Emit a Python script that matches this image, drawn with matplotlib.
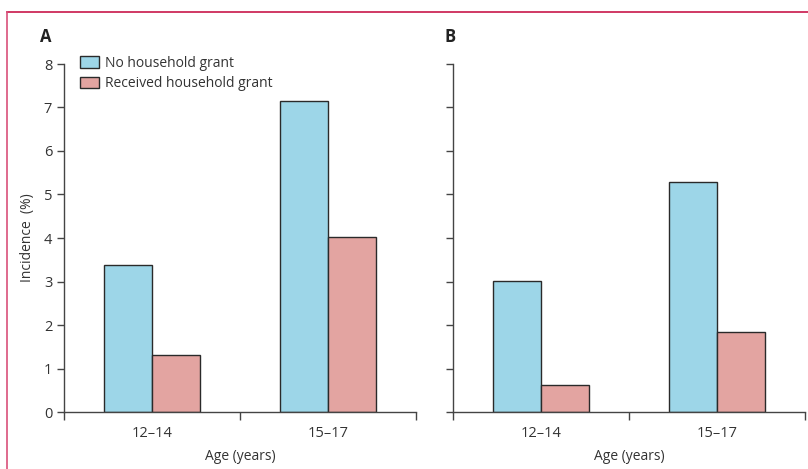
import matplotlib.pyplot as plt
import numpy as np
from matplotlib.lines import Line2D
from matplotlib.patches import Patch

plt.rcParams['font.family'] = ['Open Sans', 'DejaVu Sans']

age_groups = ['12\u201314', '15\u201317']
series_names = ['No household grant', 'Received household grant']
panel_a_none = [3.38, 7.15]
panel_a_grant = [1.32, 4.02]
panel_b_none = [3.02, 5.29]
panel_b_grant = [0.61, 1.83]
yticks = [0, 1, 2, 3, 4, 5, 6, 7, 8]

blue = '#9dd6e8'
pink = '#e3a4a1'
edge = '#2a2a2a'
txt = '#333333'

fig = plt.figure(figsize=(8.08, 4.69), dpi=100)
ax_a = fig.add_axes([64/808, 1-412/469, 352/808, 348/469])
ax_b = fig.add_axes([453/808, 1-412/469, 352/808, 348/469])

x = np.arange(len(age_groups))
w = 0.274

for ax, none, grant in [(ax_a, panel_a_none, panel_a_grant), (ax_b, panel_b_none, panel_b_grant)]:
    ax.bar(x - w/2, none, w, color=blue, edgecolor=edge, linewidth=1.0)
    ax.bar(x + w/2, grant, w, color=pink, edgecolor=edge, linewidth=1.0)
    ax.set_xlim(-0.5, 1.5)
    ax.set_ylim(0, 8)
    ax.spines['top'].set_visible(False)
    ax.spines['right'].set_visible(False)
    for s in ['left', 'bottom']:
        ax.spines[s].set_linewidth(1.0)
        ax.spines[s].set_color('#444444')
    ax.set_yticks(yticks)
    ax.set_xticks([-0.5, 0.5, 1.5])
    ax.set_xticklabels([])
    ax.set_xticks(x, minor=True)
    ax.set_xticklabels(age_groups, minor=True, fontsize=10.5, color=txt)
    ax.tick_params(axis='x', which='minor', length=0, pad=10)
    ax.tick_params(axis='x', which='major', length=6, width=1.0, color='#444444', direction='out')
    ax.tick_params(axis='y', length=5, width=1.0, color='#444444', labelsize=10.5, labelcolor=txt)
    ax.set_xlabel('Age (years)', fontsize=10, color=txt, labelpad=6)

ax_b.set_yticklabels([])
ax_a.set_ylabel('Incidence  (%)', fontsize=10, color=txt, labelpad=6)

handles = [Patch(facecolor=blue, edgecolor=edge, linewidth=1.0),
           Patch(facecolor=pink, edgecolor=edge, linewidth=1.0)]
ax_a.legend(handles, series_names, loc='upper left', bbox_to_anchor=(0.01, 1.06),
            frameon=False, fontsize=10, handlelength=1.4, handleheight=0.9,
            handletextpad=0.4, labelspacing=0.4, labelcolor=txt)

fig.text(40/808, 1-37/469, 'A', fontsize=12, fontweight='bold', va='center', ha='left', color='#222222')
fig.text(444/808, 1-37/469, 'B', fontsize=12, fontweight='bold', va='center', ha='left', color='#222222')

# pink frame on top and left
fig.add_artist(Line2D([7/808, 1.0], [1-12/469, 1-12/469], transform=fig.transFigure, color='#c8174a', linewidth=1.2))
fig.add_artist(Line2D([7/808, 7/808], [0, 1-12/469], transform=fig.transFigure, color='#d9507a', linewidth=1.2))

fig.savefig('out.png', dpi=100)
